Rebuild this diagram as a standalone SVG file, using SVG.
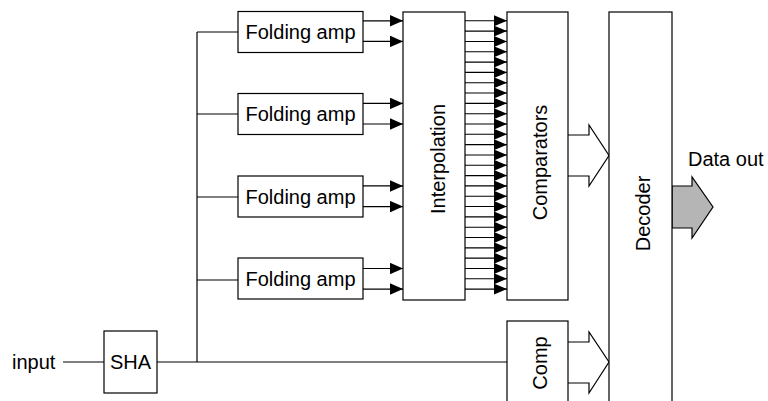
<svg xmlns="http://www.w3.org/2000/svg" width="768" height="401" viewBox="0 0 768 401">
<style>
.box{fill:#fff;stroke:#000;stroke-width:1.2}
.ln{fill:none;stroke:#000;stroke-width:1.2}
.t{font-family:"Liberation Sans",Arial,sans-serif;font-size:20px;fill:#000}
.sm{stroke:#000;stroke-width:1.1;fill:none}
</style>
<defs>
<marker id="a1" markerUnits="userSpaceOnUse" viewBox="0 0 13 11" markerWidth="13" markerHeight="11" refX="13" refY="5.5" orient="auto"><path d="M0,0 L13,5.5 L0,11z" fill="#000"/></marker>
<marker id="a2" markerUnits="userSpaceOnUse" viewBox="0 0 13 11.5" markerWidth="13" markerHeight="11.5" refX="13" refY="5.75" orient="auto"><path d="M0,0 L13,5.75 L0,11.5z" fill="#000"/></marker>
</defs>
<rect width="768" height="401" fill="#fff"/>
<g id="connectors">
<path class="ln" d="M63,362 H104"/>
<path class="ln" d="M157,362 H507"/>
<path class="ln" d="M197,362 V32"/>
<path class="ln" d="M197,32 H238 M197,114 H238 M197,197 H238 M197,280 H238"/>
<g class="ln" marker-end="url(#a2)">
<line x1="363" y1="20.8" x2="403" y2="20.8"/>
<line x1="363" y1="41.4" x2="403" y2="41.4"/>
<line x1="363" y1="103.4" x2="403" y2="103.4"/>
<line x1="363" y1="124" x2="403" y2="124"/>
<line x1="363" y1="185.9" x2="403" y2="185.9"/>
<line x1="363" y1="206.6" x2="403" y2="206.6"/>
<line x1="363" y1="268.5" x2="403" y2="268.5"/>
<line x1="363" y1="289.1" x2="403" y2="289.1"/>
</g>
<g class="sm" marker-end="url(#a1)">
<line x1="465" y1="20.8" x2="507" y2="20.8"/>
<line x1="465" y1="31.12" x2="507" y2="31.12"/>
<line x1="465" y1="41.44" x2="507" y2="41.44"/>
<line x1="465" y1="51.76" x2="507" y2="51.76"/>
<line x1="465" y1="62.08" x2="507" y2="62.08"/>
<line x1="465" y1="72.4" x2="507" y2="72.4"/>
<line x1="465" y1="82.72" x2="507" y2="82.72"/>
<line x1="465" y1="93.04" x2="507" y2="93.04"/>
<line x1="465" y1="103.36" x2="507" y2="103.36"/>
<line x1="465" y1="113.68" x2="507" y2="113.68"/>
<line x1="465" y1="124" x2="507" y2="124"/>
<line x1="465" y1="134.32" x2="507" y2="134.32"/>
<line x1="465" y1="144.64" x2="507" y2="144.64"/>
<line x1="465" y1="154.96" x2="507" y2="154.96"/>
<line x1="465" y1="165.28" x2="507" y2="165.28"/>
<line x1="465" y1="175.6" x2="507" y2="175.6"/>
<line x1="465" y1="185.92" x2="507" y2="185.92"/>
<line x1="465" y1="196.24" x2="507" y2="196.24"/>
<line x1="465" y1="206.56" x2="507" y2="206.56"/>
<line x1="465" y1="216.88" x2="507" y2="216.88"/>
<line x1="465" y1="227.2" x2="507" y2="227.2"/>
<line x1="465" y1="237.52" x2="507" y2="237.52"/>
<line x1="465" y1="247.84" x2="507" y2="247.84"/>
<line x1="465" y1="258.16" x2="507" y2="258.16"/>
<line x1="465" y1="268.48" x2="507" y2="268.48"/>
<line x1="465" y1="278.8" x2="507" y2="278.8"/>
<line x1="465" y1="289.12" x2="507" y2="289.12"/>
</g>
<path class="ln" d="M568,135 H589 V125 L609,155.5 L589,186 V176 H568"/>
<path class="ln" d="M568,342 H589 V332 L609,362 L589,393 V383 H568"/>
<path d="M672,186 H692 V177 L713,207 L692,238 V228 H672 Z" fill="#b5b5b5" stroke="#000" stroke-width="1.2"/>
</g>
<g id="input-label"><text class="t" x="12" y="369">input</text></g>
<g id="sha"><rect class="box" x="104" y="331" width="53" height="62"/><text class="t" x="130.5" y="369" text-anchor="middle">SHA</text></g>
<g id="fold1"><rect class="box" x="238" y="11.5" width="125" height="41"/><text class="t" x="300.5" y="39" text-anchor="middle">Folding amp</text></g>
<g id="fold2"><rect class="box" x="238" y="93.5" width="125" height="41"/><text class="t" x="300.5" y="121" text-anchor="middle">Folding amp</text></g>
<g id="fold3"><rect class="box" x="238" y="176" width="125" height="41"/><text class="t" x="300.5" y="203.5" text-anchor="middle">Folding amp</text></g>
<g id="fold4"><rect class="box" x="238" y="258" width="125" height="41"/><text class="t" x="300.5" y="285.5" text-anchor="middle">Folding amp</text></g>
<g id="interpolation"><rect class="box" x="403" y="12" width="62" height="288"/><text class="t" transform="translate(445,159) rotate(-90)" text-anchor="middle">Interpolation</text></g>
<g id="comparators"><rect class="box" x="507" y="12" width="61" height="288"/><text class="t" transform="translate(546.5,162.5) rotate(-90)" text-anchor="middle">Comparators</text></g>
<g id="comp"><rect class="box" x="507" y="321" width="61" height="100"/><text class="t" transform="translate(547,363) rotate(-90)" text-anchor="middle">Comp</text></g>
<g id="decoder"><rect class="box" x="609" y="12" width="63" height="400"/><text class="t" transform="translate(650,213.5) rotate(-90)" text-anchor="middle">Decoder</text></g>
<g id="data-out-label"><text class="t" x="688" y="166">Data out</text></g>
</svg>
